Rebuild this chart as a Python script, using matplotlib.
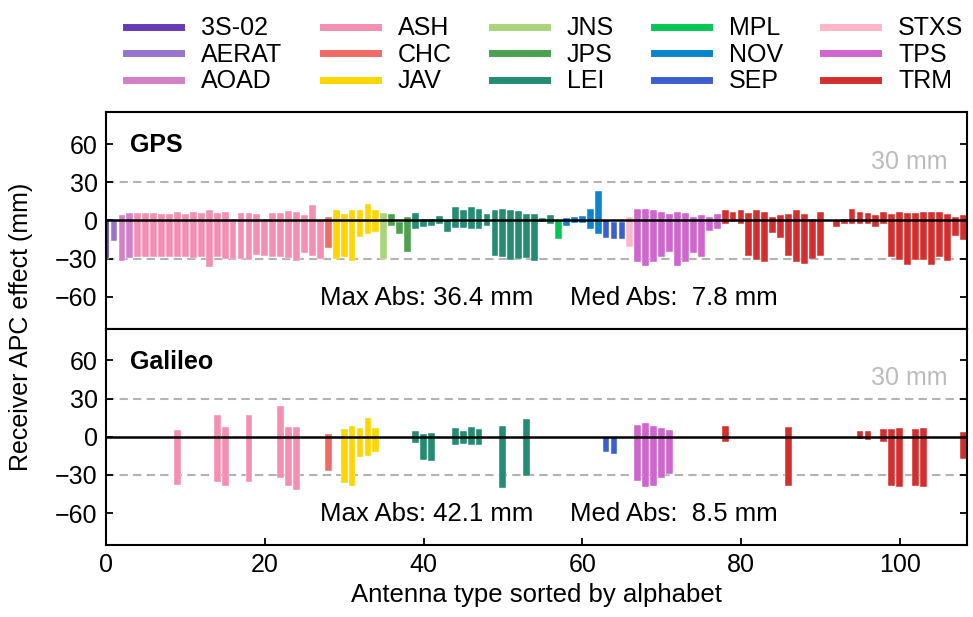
import numpy as np
import matplotlib
matplotlib.use('Agg')
import matplotlib.pyplot as plt
from matplotlib.lines import Line2D

plt.rcParams['font.family'] = ['Liberation Sans', 'DejaVu Sans']
plt.rcParams['font.size'] = 18

# antenna brands in alphabetical order and how many antenna types each has
brands = ['3S-02', 'AERAT', 'AOAD', 'ASH', 'CHC', 'JAV', 'JNS', 'JPS',
          'LEI', 'MPL', 'NOV', 'SEP', 'STXS', 'TPS', 'TRM']
brand_counts = [1, 1, 2, 24, 1, 6, 1, 3, 18, 1, 5, 3, 1, 11, 31]
brand_colors = ['#673AB7', '#9575CD', '#D480C8', '#F48FB1', '#EF6B63',
                '#FFD600', '#A9D47A', '#4CA150', '#248B74', '#00C853',
                '#0A84CF', '#3B5FD0', '#FFB6C8', '#CF66CF', '#D32F2F']

# GPS: upper / lower value of the receiver APC effect per antenna (mm)
gps_hi = [0, 0, 4, 6, 5.8, 5.8, 5.8, 5.3, 5.3, 6.6,
          4.7, 6.6, 5.5, 7.9, 6, 6.8, 1, 5.8, 5.8, 4.7,
          1, 5.8, 5.8, 7.1, 6.6, 4, 12, 0, 2.6, 8,
          5, 8, 8, 13, 8, 6, 5, -1, 2.6, 6,
          1.3, 1.3, 3.4, 0, 10.5, 8, 10.5, 9, 5, 8.4,
          9, 8.4, 7.4, 5, 5, 2, 4, 0.5, 2, 3,
          3.4, 9, 23, 0, -1.3, -1.3, 2.6, 9, 9, 8.4,
          6.6, 4.7, 6.6, 5.8, 2.6, 4, 2.6, 5, 8, 6.6,
          8.4, 5.8, 8, 6.6, 3, 4.5, 5, 8.4, 5, 1.3,
          7, 0.5, 0, 1.3, 9, 7, 5.8, 4, 7, 5,
          7, 5.8, 5.8, 7, 6.3, 6.3, 5, 2.6, 4]
gps_lo = [-30, -16, -32, -29.5, -29, -29, -29, -29, -28.5, -29,
          -28.5, -29.5, -29, -36.4, -29, -30.5, -30, -30, -31, -27.5,
          -28, -29, -29, -29.5, -32, -26, -28, -30, -22, -30,
          -29, -32, -13, -10.5, -9, -30, -4, -10.5, -24.5, -6.6,
          -5, -4.7, -2.6, -9, -6, -6, -6.6, -6.6, -4, -27.6,
          -29, -31, -30, -29.5, -31.6, -1.3, -3, -14.5, -4, -2,
          -2, -6.6, -11, -13.7, -14.5, -14.5, -21, -33, -36, -33,
          -29, -25, -36, -33, -26, -29, -8, -6.6, -2.6, -1.3,
          -3, -27.6, -31, -33, -10, -13.7, -27.6, -33, -34, -30,
          -28, -0.5, -5, -3, -3, -2.6, -3, -5, -2.6, -29,
          -31, -35, -31, -31, -35, -29, -31.6, -12, -15]

# Galileo: only a subset of antenna types has values
gal_idx = [9, 14, 15, 18, 22, 23, 24, 28, 30, 31, 32, 33, 34, 39, 40, 41,
           44, 45, 46, 47, 50, 53, 63, 64, 67, 68, 69, 70, 71, 78, 86, 95,
           96, 98, 99, 100, 102, 103, 108]
gal_hi = [5.5, 17, 7.6, 17, 24, 7.6, 7.6, 2, 6, 8.7, 6.8, 15, 6.8, 4.7, 2.4, 3,
          6.8, 4.2, 7.6, 6, 8.7, 14, 0, -0.3, 9, 10.8, 8.7, 6.6, 5, 8.7, 7.4, 4.7,
          4.2, 6, 6.3, 6.8, 6.3, 6.8, 3.4]
gal_lo = [-38, -36, -38.4, -36, -32.6, -38.4, -42.1, -26.6, -36.6, -39, -16.3, -15, -12.4, -5, -18.7, -19.5,
          -6.3, -5.5, -6.3, -6.3, -40.5, -31, -12.4, -13.7, -34.7, -39.7, -38.7, -32.6, -29.2, -3.9, -38.4, -1.6,
          -2.9, -4.5, -38.4, -39.2, -38.4, -39.2, -17.6]

gps_stats = ('36.4', '7.8')
gal_stats = ('42.1', '8.5')

# per-antenna colour
ant_colors = np.repeat(brand_colors, brand_counts)
n_ant = len(gps_hi)

fig, axs = plt.subplots(2, 1, figsize=(9.73, 6.17), dpi=100, sharex=True)
fig.subplots_adjust(left=0.109, right=0.994, bottom=0.117, top=0.818, hspace=0)

panels = [
    (axs[0], np.arange(n_ant), np.array(gps_hi), np.array(gps_lo), 'GPS', gps_stats),
    (axs[1], np.array(gal_idx), np.array(gal_hi), np.array(gal_lo), 'Galileo', gal_stats),
]

for ax, x, hi, lo, name, stats in panels:
    ax.bar(x, hi - lo, bottom=lo, width=0.86, color=ant_colors[x],
           edgecolor='white', linewidth=0.3, zorder=2)
    ax.axhline(0, color='black', lw=1.8, zorder=3)
    for yv in (30, -30):
        ax.axhline(yv, color='#b3b3b3', lw=1.5, ls=(0, (4, 2.5)), zorder=1)
    ax.set_ylim(-85, 85)
    ax.set_yticks([-60, -30, 0, 30, 60])
    ax.set_yticklabels(['\u221260', '\u221230', '0', '30', '60'])
    ax.tick_params(direction='in', length=5, width=1.3, right=True, labelsize=18, pad=6)
    for sp in ax.spines.values():
        sp.set_linewidth(1.5)
    ax.text(3, 59, name, fontsize=18, fontweight='bold', va='center', ha='left')
    ax.text(106, 46, '30 mm', fontsize=18, color='#bbbbbb', va='center', ha='right')
    ax.text(27, -61, 'Max Abs: %s mm' % stats[0], fontsize=18.5, va='center', ha='left')
    ax.text(58.5, -61, 'Med Abs:  %s mm' % stats[1], fontsize=18.5, va='center', ha='left')

axs[0].tick_params(axis='x', bottom=False)
axs[1].set_xlim(0, 108.5)
axs[1].set_xticks([0, 20, 40, 60, 80, 100])
axs[1].set_xlabel('Antenna type sorted by alphabet', fontsize=18.5, labelpad=4)
fig.text(0.022, 0.47, 'Receiver APC effect (mm)', rotation=90, fontsize=18,
         va='center', ha='center')

handles = [Line2D([], [], color=c, lw=5) for c in brand_colors]
fig.legend(handles, brands, ncol=5, loc='upper center', bbox_to_anchor=(0.56, 1.01),
           frameon=False, fontsize=18, handlelength=2.2, handletextpad=0.8,
           columnspacing=1.6, labelspacing=0.1)

fig.savefig('out.png', dpi=100)
